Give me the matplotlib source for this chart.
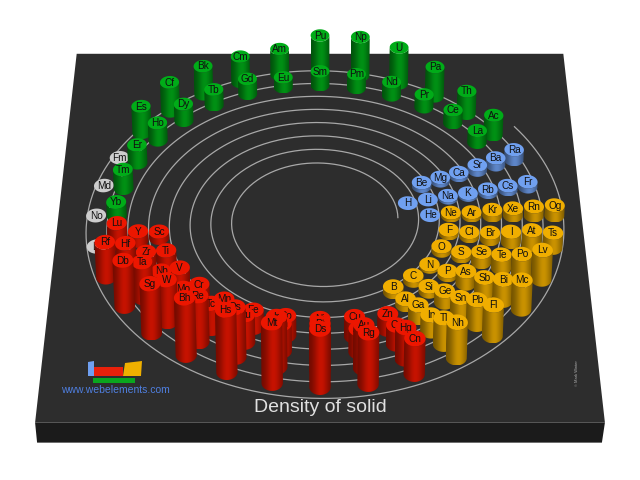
import numpy as np
import matplotlib
matplotlib.use("Agg")
import matplotlib.pyplot as plt
from matplotlib.patches import Polygon

plt.rcParams['font.family'] = ['Liberation Sans', 'DejaVu Sans']

# elements by period, and density (g/cm3), 0 = no data
period1 = ["H", "He"]
density1 = [0.1, 0.2]
period2 = ["Li", "Be", "B", "C", "N", "O", "F", "Ne"]
density2 = [0.5, 1.8, 2.4, 2.3, 1.0, 2.0, 1.7, 1.4]
period3 = ["Na", "Mg", "Al", "Si", "P", "S", "Cl", "Ar"]
density3 = [1.0, 1.7, 2.7, 2.3, 1.8, 2.0, 2.0, 1.6]
period4 = ["K", "Ca", "Sc", "Ti", "V", "Cr", "Mn", "Fe", "Co", "Ni", "Cu", "Zn",
           "Ga", "Ge", "As", "Se", "Br", "Kr"]
density4 = [0.9, 1.5, 3.0, 4.5, 6.1, 7.1, 7.5, 7.9, 8.9, 8.9, 8.9, 7.1,
            5.9, 5.3, 5.7, 4.8, 3.1, 2.8]
period5 = ["Rb", "Sr", "Y", "Zr", "Nb", "Mo", "Tc", "Ru", "Rh", "Pd", "Ag", "Cd",
           "In", "Sn", "Sb", "Te", "I", "Xe"]
density5 = [1.5, 2.6, 4.5, 6.5, 8.6, 10.3, 11.5, 12.4, 12.4, 12.0, 10.5, 8.6,
            7.3, 7.3, 6.7, 6.2, 4.9, 3.5]
period6 = ["Cs", "Ba", "La", "Ce", "Pr", "Nd", "Pm", "Sm", "Eu", "Gd", "Tb", "Dy",
           "Ho", "Er", "Tm", "Yb", "Lu", "Hf", "Ta", "W", "Re", "Os", "Ir", "Pt",
           "Au", "Hg", "Tl", "Pb", "Bi", "Po", "At", "Rn"]
density6 = [1.9, 3.5, 6.1, 6.7, 6.6, 7.0, 7.3, 7.4, 5.2, 7.9, 8.2, 8.6,
            8.8, 9.1, 9.3, 6.6, 9.8, 13.3, 16.7, 19.3, 21.0, 22.6, 22.6, 21.1,
            19.3, 14.2, 11.9, 11.3, 9.8, 9.2, 7.0, 4.4]
period7 = ["Fr", "Ra", "Ac", "Th", "Pa", "U", "Np", "Pu", "Am", "Cm", "Bk", "Cf",
           "Es", "Fm", "Md", "No", "Lr", "Rf", "Db", "Sg", "Bh", "Hs", "Mt", "Ds",
           "Rg", "Cn", "Nh", "Fl", "Mc", "Lv", "Ts", "Og"]
density7 = [2.5, 5.0, 10.1, 11.7, 15.4, 19.1, 20.5, 19.8, 13.7, 13.5, 14.8, 15.1,
            13.5, 0, 0, 0, 0, 16.5, 21.4, 22.5, 26.0, 28.0, 27.0, 26.0,
            23.0, 16.0, 16.0, 14.0, 13.5, 13.8, 7.2, 5.0]

title = "Density of solid"
site = "www.webelements.com"
credit = "\u00a9 Mark Winter"

# camera
CX, CY = 320, 219.5
SQUASH = 0.697
PERSP = 0.0003
PITCH = 20.7
COL_STEP = 11.25
CYL_R = 10

BOARD_BG = "#2d2d2d"
BOARD_SIDE = "#1b1b1b"
LINE_COL = "#a8a8a8"
BLUE = np.array([112, 160, 240]) / 255
GREEN = np.array([0, 172, 24]) / 255
RED = np.array([236, 22, 0]) / 255
ORANGE = np.array([240, 174, 0]) / 255
GREY = np.array([205, 205, 205]) / 255


def project(x, y):
    w = 1 + PERSP * np.asarray(y)
    return CX + np.asarray(x) / w, CY - SQUASH * np.asarray(y) / w


def columns(n):
    if n == 2:
        return [0, 31]
    if n == 8:
        return [0, 1] + list(range(26, 32))
    if n == 18:
        return [0, 1] + list(range(16, 32))
    return list(range(32))


def block_colour(col, period, dens):
    if dens == 0:
        return GREY
    if col < 2 or period == 1:
        return BLUE
    if col < 16:
        return GREEN
    if col < 26:
        return RED
    return ORANGE


def draw_cylinder(ax, x, y, dens, sym, col, z):
    t = np.radians(np.linspace(180, 360, 33))
    bx, by = project(x + CYL_R * np.cos(t), y + CYL_R * np.sin(t))
    by = by - 4
    cx, cy = project(x, y)
    cy = cy - 4
    h = dens * 2.05 * (1 - 0.0004 * y)
    dx = (cx - CX) * 0.00023 * h
    if h > 1.5:
        # body: smooth left-right shading clipped to the outline
        px = np.concatenate([bx, bx[::-1] + dx])
        py = np.concatenate([by, by[::-1] - h])
        u = np.linspace(-1, 1, 64)
        shade = 0.45 + 0.39 * np.exp(-((u - 0.1) / 0.7) ** 2)
        img = (col * shade[:, None])[None, :, :]
        im = ax.imshow(img, extent=[px.min(), px.max(), py.max(), py.min()], aspect="auto",
                       interpolation="bilinear", zorder=z)
        im.set_clip_path(Polygon(np.column_stack([px, py]), transform=ax.transData))
    a = np.radians(np.linspace(0, 360, 41))
    tx, ty = project(x + CYL_R * np.cos(a), y + CYL_R * np.sin(a))
    ax.fill(tx + dx, ty - 4 - h, color=col, lw=0, zorder=z + 0.2)
    ax.text(cx + dx, cy - h + 0.3, sym, fontsize=7.2, color="#101010", ha="center",
            va="center", zorder=z + 0.4)


fig = plt.figure(figsize=(6.4, 4.8), dpi=100)
ax = fig.add_axes([0, 0, 1, 1])
ax.axis("off")

# board
bx, by = project([-262, 262, 262, -262], [256, 256, -268, -268])
ax.fill(bx, by, color=BOARD_BG, lw=0, zorder=1)
ax.fill([bx[3], bx[2], bx[2] - 3, bx[3] + 2], [by[2], by[2], by[2] + 20, by[2] + 20],
        color=BOARD_SIDE, lw=0, zorder=1)

# spiral guide line
turns = np.linspace(0, 8.09, 1500)
ang = np.radians(2 + turns * 360)
rad = 78 + PITCH * turns
sx, sy = project(rad * np.cos(ang), rad * np.sin(ang))
ax.plot(sx, sy, color=LINE_COL, lw=0.9, zorder=2)

# cylinders back to front
rows = [period1, period2, period3, period4, period5, period6, period7]
vals = [density1, density2, density3, density4, density5, density6, density7]
items = []
for p, (names, dens) in enumerate(zip(rows, vals)):
    for c, s, d in zip(columns(len(names)), names, dens):
        theta = (c + 1) * COL_STEP
        r = 90 + PITCH * (p + (theta - 11.25) / 360)
        x = r * np.cos(np.radians(theta))
        y = r * np.sin(np.radians(theta))
        items.append((y, x, d, s, block_colour(c, p + 1, d)))
items.sort(key=lambda it: -it[0])
for i, (y, x, d, s, col) in enumerate(items):
    draw_cylinder(ax, x, y, d, s, col, 3 + i)

# logo
z = 200
ax.fill([88, 94, 94, 88], [376, 376, 361, 362], color="#6f9ff0", lw=0, zorder=z)
ax.fill([94, 123, 123, 94], [376, 376, 367, 367], color="#e8200a", lw=0, zorder=z)
ax.fill([123, 141, 142, 125], [376, 376, 361, 363], color="#efb000", lw=0, zorder=z)
ax.fill([93, 135, 135, 93], [383, 383, 378, 378], color="#0aa61e", lw=0, zorder=z)

ax.text(115.5, 390, site, fontsize=7.5, color="#4f7fe0", ha="center", va="center", zorder=z)
ax.text(320, 408, title, fontsize=14, color="#e0e0e0", ha="center", va="center", zorder=z)
ax.text(577, 373, credit, fontsize=2.9, color="#b0b0b0", rotation=90, ha="center", va="center",
        zorder=z)

ax.set_xlim(0, 640)
ax.set_ylim(480, 0)
fig.savefig("out.png", dpi=100)
